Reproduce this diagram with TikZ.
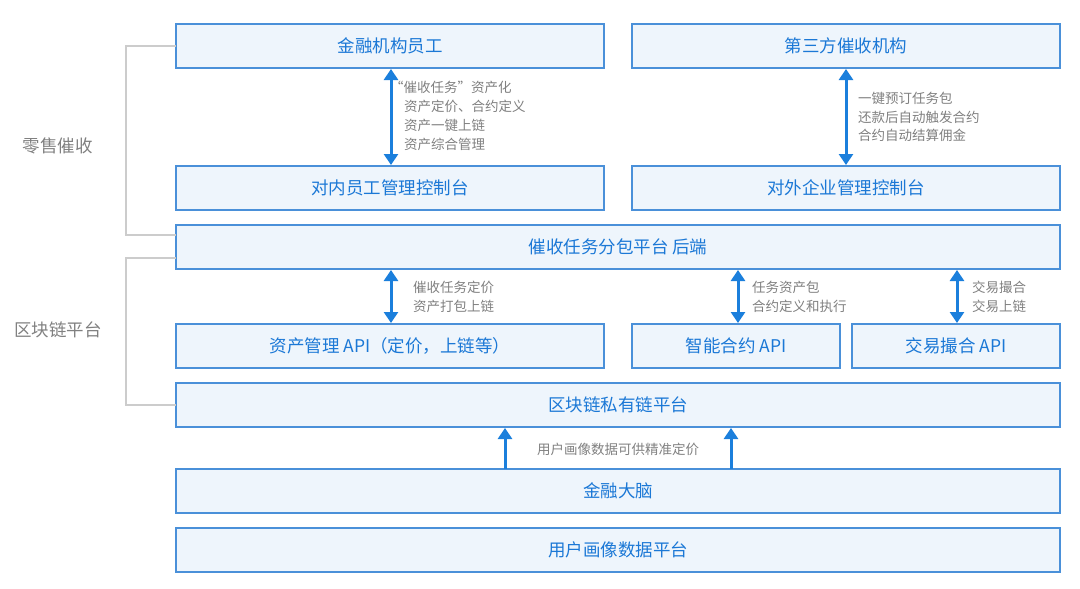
\documentclass[tikz,border=0pt]{standalone}
\usepackage{fontspec}
\setmainfont{Noto Sans CJK SC}
\usetikzlibrary{arrows.meta}
\definecolor{boxblue}{HTML}{4A90D9}
\definecolor{boxfill}{HTML}{EEF5FC}
\definecolor{txtblue}{HTML}{1B78D6}
\definecolor{arrblue}{HTML}{1B7FDC}
\definecolor{lblgray}{HTML}{808080}
\definecolor{brkgray}{HTML}{CCCCCC}
\tikzset{
  blk/.style={draw=boxblue,fill=boxfill,line width=1.2pt},
  blktxt/.style={text=txtblue,font=\fontsize{17.5}{20}\selectfont},
  lbl/.style={text=lblgray,font=\fontsize{13.5}{18.8}\selectfont,align=left,anchor=west,inner sep=0pt},
  dbl/.style={arrblue,line width=3pt,{Triangle[length=11pt,width=14pt]}-{Triangle[length=11pt,width=14pt]}},
  up/.style={arrblue,line width=3pt,-{Triangle[length=11pt,width=14pt]}},
  brk/.style={brkgray,line width=1.2pt}
}
\begin{document}
\begin{tikzpicture}[x=1pt,y=-1pt]
\useasboundingbox (0,0) rectangle (1080,589);
% boxes
\foreach \nm/\xa/\ya/\xb/\yb/\tx in {
  jr/176/24/604/68/金融机构员工,
  dsf/632/24/1060/68/第三方催收机构,
  dn/176/166/604/210/对内员工管理控制台,
  dw/632/166/1060/210/对外企业管理控制台,
  hd/176/225/1060/269/催收任务分包平台 后端,
  zc/176/324/604/368/资产管理 API（定价，上链等）,
  hy/632/324/840/368/智能合约 API,
  jy/852/324/1060/368/交易撮合 API,
  qkl/176/383/1060/427/区块链私有链平台,
  dn2/176/469/1060/513/金融大脑,
  yh/176/528/1060/572/用户画像数据平台} {
  \draw[blk] (\xa,\ya) rectangle (\xb,\yb);
  \node[blktxt] (\nm) at ({(\xa+\xb)/2},{(\ya+\yb)/2}) {\tx};
}
% arrows
\coordinate (a1) at (391,69);  \coordinate (a2) at (391,165);
\draw[dbl] (a1) -- (a2);
\node[lbl] (l1) at (390,116) {“催收任务”资产化\\\hspace{14pt}资产定价、合约定义\\\hspace{14pt}资产一键上链\\\hspace{14pt}资产综合管理};
\coordinate (b1) at (846,69);  \coordinate (b2) at (846,165);
\draw[dbl] (b1) -- (b2);
\node[lbl] (l2) at (858,117) {一键预订任务包\\还款后自动触发合约\\合约自动结算佣金};
\coordinate (c1) at (391,270); \coordinate (c2) at (391,323);
\draw[dbl] (c1) -- (c2);
\node[lbl] (l3) at (413,297) {催收任务定价\\资产打包上链};
\coordinate (d1) at (738,270); \coordinate (d2) at (738,323);
\draw[dbl] (d1) -- (d2);
\node[lbl] (l4) at (752,297) {任务资产包\\合约定义和执行};
\coordinate (e1) at (957,270); \coordinate (e2) at (957,323);
\draw[dbl] (e1) -- (e2);
\node[lbl] (l5) at (972,297) {交易撮合\\交易上链};
\coordinate (f1) at (505,469); \coordinate (f2) at (505,428);
\draw[up] (f1) -- (f2);
\coordinate (g1) at (731,469); \coordinate (g2) at (731,428);
\draw[up] (g1) -- (g2);
\node[lbl,anchor=center] (l6) at (618,449) {用户画像数据可供精准定价};
% brackets
\draw[brk] (176,46) -- (126,46) -- (126,235) -- (176,235);
\draw[brk] (176,258) -- (126,258) -- (126,405) -- (176,405);
\node[text=lblgray,font=\fontsize{17.5}{20}\selectfont] (ls) at (58,146) {零售催收};
\node[text=lblgray,font=\fontsize{17.5}{20}\selectfont] (lq) at (58,330) {区块链平台};
\end{tikzpicture}
\end{document}
